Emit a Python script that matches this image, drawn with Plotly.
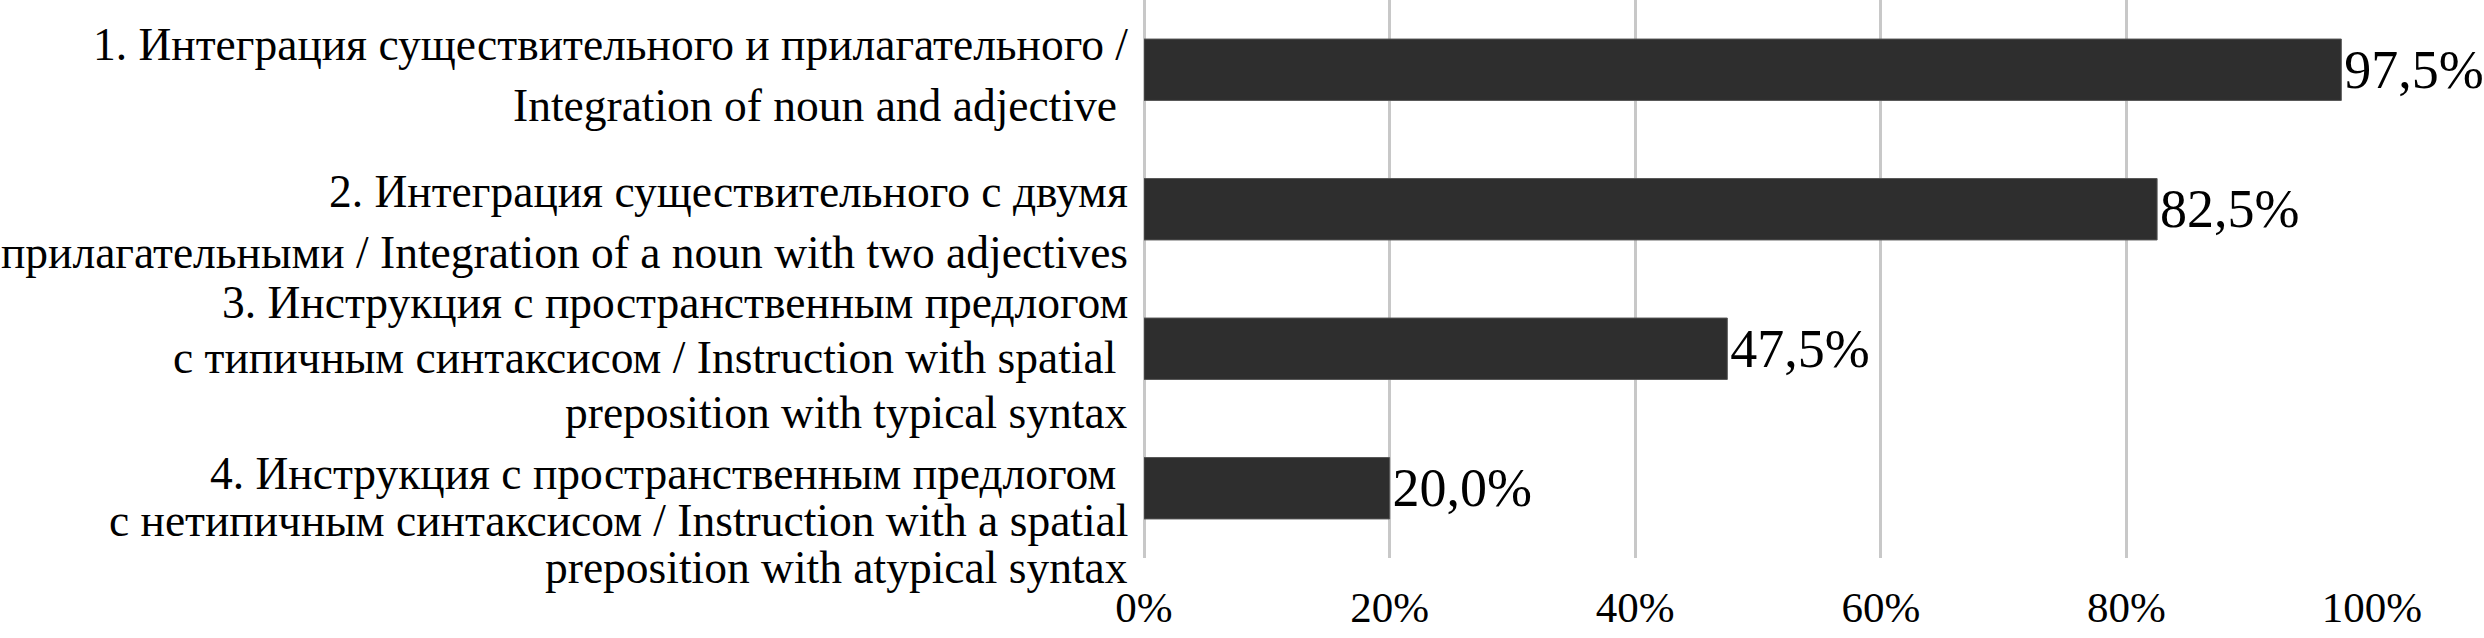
import plotly.graph_objects as go

category_lines = [
    ["1. Интеграция существительного и прилагательного /",
     "Integration of noun and adjective\u00a0"],
    ["2. Интеграция существительного с двумя",
     "прилагательными / Integration of a noun with two adjectives"],
    ["3. Инструкция с пространственным предлогом",
     "с типичным синтаксисом / Instruction with spatial\u00a0",
     "preposition with typical syntax"],
    ["4. Инструкция с пространственным предлогом\u00a0",
     "с нетипичным синтаксисом / Instruction with a spatial",
     "preposition with atypical syntax"],
]
categories = ["<br>".join(lines) for lines in category_lines]
values = [0.975, 0.825, 0.475, 0.200]
value_labels = ["97,5%", "82,5%", "47,5%", "20,0%"]
x_tickvals = [0, 0.2, 0.4, 0.6, 0.8, 1.0]
x_ticktext = ["0%", "20%", "40%", "60%", "80%", "100%"]

FONT = "Liberation Serif, Times New Roman, serif"
# pixel offsets of each label line from its category centre (positive = down)
line_offsets = [
    [-25, 36],
    [-18, 43],
    [-46, 9, 64],
    [-15, 32, 79],
]

fig = go.Figure()
fig.add_trace(go.Bar(
    x=values,
    y=categories,
    orientation="h",
    width=0.44,
    marker=dict(color="#2e2e2e", line=dict(color="#555555", width=1)),
    text=value_labels,
    textposition="outside",
    textfont=dict(family=FONT, size=54, color="#000000"),
    constraintext="none",
    cliponaxis=False,
    hoverinfo="skip",
))

for cat, lines, offs in zip(categories, category_lines, line_offsets):
    for line, off in zip(lines, offs):
        fig.add_annotation(
            x=0, xref="paper", y=cat, yref="y",
            text=line, showarrow=False,
            xanchor="right", yanchor="middle", align="right",
            xshift=-14, yshift=-off,
            font=dict(family=FONT, size=45.5, color="#000000"),
        )

fig.update_layout(
    width=2484, height=638,
    margin=dict(l=1144, r=112, t=0, b=80),
    paper_bgcolor="white", plot_bgcolor="white",
    showlegend=False,
    font=dict(family=FONT, color="#000000"),
)
fig.update_xaxes(
    range=[0, 1], tickvals=x_tickvals, ticktext=x_ticktext,
    showgrid=True, gridcolor="#c8c8c8", gridwidth=3,
    zeroline=True, zerolinecolor="#c8c8c8", zerolinewidth=3,
    showline=False, ticks="", automargin=False,
    tickfont=dict(family=FONT, size=43, color="#000000"),
    ticklabelstandoff=20,
)
fig.update_yaxes(
    autorange="reversed", showticklabels=False, showgrid=False,
    zeroline=False, showline=False, ticks="", automargin=False,
)

fig.write_html(
    "out.html",
    config={"displayModeBar": False},
    post_script="document.body.style.margin='0';",
)
